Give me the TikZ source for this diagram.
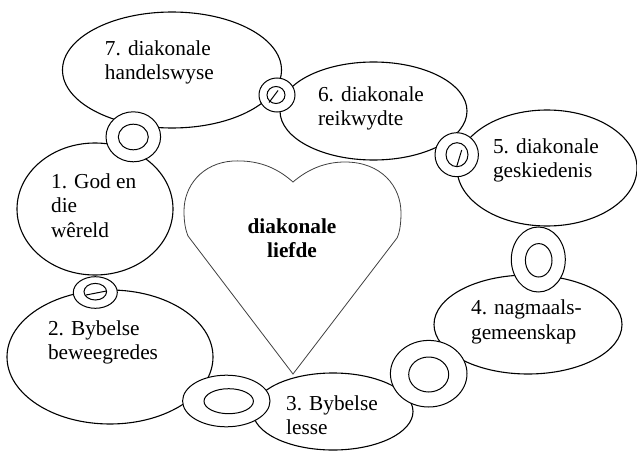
\documentclass[tikz,border=0pt]{standalone}
\usepackage{fontspec}
\setmainfont{Liberation Serif}
\usetikzlibrary{shapes.geometric}
\begin{document}
\begin{tikzpicture}[x=1pt,y=-1pt,
  oval/.style={ellipse,draw=black,fill=white,line width=1.1pt,inner sep=0pt},
  ringout/.style={ellipse,draw=black,fill=white,line width=1pt,inner sep=0pt},
  ringin/.style={ellipse,draw=black,line width=1pt,inner sep=0pt},
  lbl/.style={align=left,inner sep=0pt,font=\fontsize{21.3}{24.5}\selectfont},
  hlbl/.style={align=center,inner sep=0pt,font=\fontsize{21.3}{24.5}\selectfont\bfseries},
  heartline/.style={draw=black!75,line width=0.8pt,fill=white}]
\useasboundingbox (0,0) rectangle (637,452);
% ovals
\node[oval,minimum width=219pt,minimum height=116pt] (e7) at (172,70) {};
\node[oval,minimum width=187pt,minimum height=98pt] (e6) at (373.5,111) {};
\node[oval,minimum width=180pt,minimum height=116pt] (e5) at (547,168) {};
\node[oval,minimum width=188pt,minimum height=99pt] (e4) at (528,324.5) {};
\node[oval,minimum width=160pt,minimum height=77pt] (e3) at (333,411.5) {};
\node[oval,minimum width=206pt,minimum height=134pt] (e2) at (110,357) {};
\node[oval,minimum width=156pt,minimum height=132pt] (e1) at (95,209) {};
% heart
\path[heartline] (293,182) .. controls (275,166) and (256,160) .. (233,161)
  .. controls (202,163) and (184,186) .. (184,211)
  .. controls (184,224) and (186,231) .. (188,236)
  -- (293,374) -- (397,238)
  .. controls (400,232) and (401,222) .. (401,213)
  .. controls (401,186) and (381,162) .. (345,162)
  .. controls (324,162) and (307,170) .. cycle;
\node[hlbl] (th) at (292,238) {diakonale\\liefde};
% rings
\node[ringout,minimum width=54.6pt,minimum height=50pt] (r71) at (133.3,136.8) {};
\node[ringin,minimum width=30pt,minimum height=25.6pt] (r71i) at (133.3,137) {};
\node[ringout,minimum width=36pt,minimum height=34pt] (r76) at (277,95) {};
\node[ringin,minimum width=18pt,minimum height=17pt] (r76i) at (276,95) {};
\node[ringout,minimum width=43.4pt,minimum height=44pt] (r65) at (456.7,154.7) {};
\node[ringin,minimum width=22pt,minimum height=24pt] (r65i) at (457,154.7) {};
\node[ringout,minimum width=54pt,minimum height=65pt] (r54) at (538.3,259.5) {};
\node[ringin,minimum width=26.6pt,minimum height=33.4pt] (r54i) at (538.7,260.3) {};
\node[ringout,minimum width=76.6pt,minimum height=66.6pt] (r43) at (428.7,373.7) {};
\node[ringin,minimum width=40pt,minimum height=35pt] (r43i) at (428.7,374.5) {};
\node[ringout,minimum width=87.4pt,minimum height=51.6pt] (r23) at (226.3,401) {};
\node[ringin,minimum width=49.4pt,minimum height=25pt] (r23i) at (228.7,401.2) {};
\node[ringout,minimum width=44pt,minimum height=31.6pt] (r12) at (95.3,292.5) {};
\node[ringin,minimum width=22.6pt,minimum height=16.6pt] (r12i) at (95.3,291.7) {};
% slashes
\draw[line width=1pt] (86,295) -- (106.5,291);
\draw[line width=1pt] (269,102.5) -- (278,90.5);
\draw[line width=1pt] (456.7,166.5) -- (461.7,150);
% labels
\node[lbl] (t7) at (159.4,62.3) {7. diakonale\\handelswyse};
\node[lbl] (t6) at (371,108.3) {6. diakonale\\reikwydte};
\node[lbl] (t5) at (546,160.3) {5. diakonale\\geskiedenis};
\node[lbl] (t4) at (526.4,321.8) {4. nagmaals-\\gemeenskap};
\node[lbl] (t3) at (332,415) {3. Bybelse\\lesse};
\node[lbl] (t2) at (103,342.3) {2. Bybelse\\beweegredes};
\node[lbl] (t1) at (93.7,205.3) {1. God en\\die\\wêreld};
\end{tikzpicture}
\end{document}
